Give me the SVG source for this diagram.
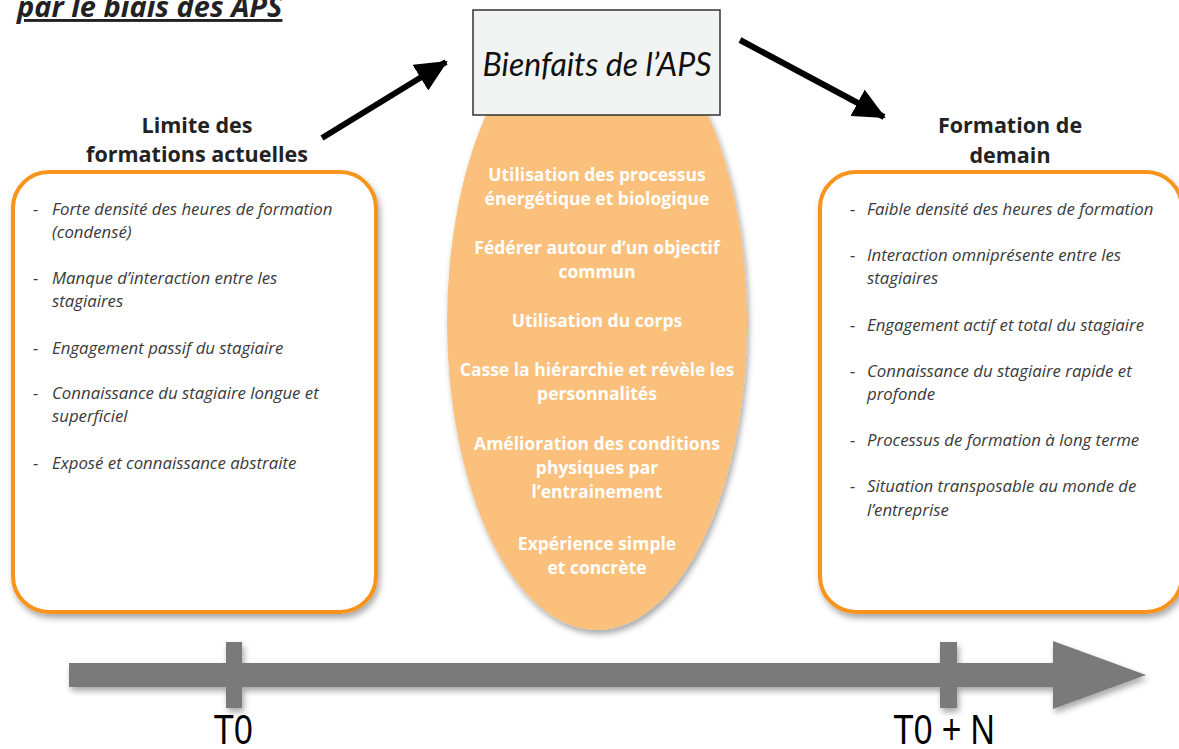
<svg xmlns="http://www.w3.org/2000/svg" width="1179" height="749" viewBox="0 0 1179 749">
<style>
.hdr{font-family:"Open Sans",Lato,"Liberation Sans",sans-serif;font-weight:bold;font-size:21.5px;fill:#222;text-anchor:middle}
.item{font-family:"Open Sans",Lato,"Liberation Sans",sans-serif;font-style:italic;font-size:16.8px;fill:#3a3a3a}
.ctr{font-family:"Open Sans",Lato,"Liberation Sans",sans-serif;font-weight:bold;font-size:17.5px;fill:#fff;text-anchor:middle}
.card{fill:#fff;stroke:#F7941D;stroke-width:4}
.tl{font-family:"Liberation Sans",Arial,sans-serif;font-size:42px;fill:#000;text-anchor:middle}
.conn{stroke:#000;stroke-width:6;fill:none}
</style>
<defs>
<filter id="sh" x="-10%" y="-10%" width="120%" height="120%">
<feGaussianBlur in="SourceAlpha" stdDeviation="3"/>
<feOffset dx="2" dy="4" result="b"/>
<feComponentTransfer><feFuncA type="linear" slope="0.35"/></feComponentTransfer>
<feMerge><feMergeNode/><feMergeNode in="SourceGraphic"/></feMerge>
</filter>
<marker id="ah" markerUnits="userSpaceOnUse" markerWidth="34" markerHeight="30" refX="30" refY="15" orient="auto">
<path d="M0,0 L32,15 L0,30 Z" fill="#000"/>
</marker>
</defs>
<rect width="1179" height="749" fill="#fff"/>

<g id="title">
<text x="17" y="17" font-family="'Open Sans',Lato,'Liberation Sans',sans-serif" font-weight="bold" font-style="italic" font-size="29" fill="#222" text-decoration="underline">par le biais des APS</text>
</g>

<g id="ellipse-aps">
<ellipse cx="597" cy="322" rx="150" ry="308" fill="#FBC07C" filter="url(#sh)"/>
<text class="ctr" x="597" y="181">Utilisation des processus</text>
<text class="ctr" x="597" y="205">énergétique et biologique</text>
<text class="ctr" x="597" y="254">Fédérer autour d’un objectif</text>
<text class="ctr" x="597" y="278">commun</text>
<text class="ctr" x="597" y="327">Utilisation du corps</text>
<text class="ctr" x="597" y="376">Casse la hiérarchie et révèle les</text>
<text class="ctr" x="597" y="400">personnalités</text>
<text class="ctr" x="597" y="450">Amélioration des conditions</text>
<text class="ctr" x="597" y="474">physiques par</text>
<text class="ctr" x="597" y="498">l’entrainement</text>
<text class="ctr" x="597" y="550">Expérience simple</text>
<text class="ctr" x="597" y="574">et concrète</text>
</g>

<g id="bienfaits">
<rect x="473" y="10" width="247" height="105" fill="#F2F4F3" stroke="#333" stroke-width="1.5"/>
<text x="597" y="76" font-family="Lato,'Open Sans','Liberation Sans',sans-serif" font-style="italic" font-size="32" fill="#111" text-anchor="middle">Bienfaits de l’APS</text>
</g>

<g id="limite">
<text class="hdr" x="197" y="133">Limite des</text>
<text class="hdr" x="197" y="162">formations actuelles</text>
<rect class="card" x="13" y="172" width="363" height="440" rx="36" filter="url(#sh)"/>
<g class="item">
<text x="33" y="215">-</text><text x="52" y="215">Forte densité des heures de formation</text>
<text x="52" y="238">(condensé)</text>
<text x="33" y="284">-</text><text x="52" y="284">Manque d’interaction entre les</text>
<text x="52" y="307">stagiaires</text>
<text x="33" y="354">-</text><text x="52" y="354">Engagement passif du stagiaire</text>
<text x="33" y="399">-</text><text x="52" y="399">Connaissance du stagiaire longue et</text>
<text x="52" y="422">superficiel</text>
<text x="33" y="469">-</text><text x="52" y="469">Exposé et connaissance abstraite</text>
</g>
</g>

<g id="demain">
<text class="hdr" x="1010" y="133">Formation de</text>
<text class="hdr" x="1010" y="163">demain</text>
<rect class="card" x="820" y="172" width="362" height="440" rx="36" filter="url(#sh)"/>
<g class="item">
<text x="850" y="215">-</text><text x="867" y="215">Faible densité des heures de formation</text>
<text x="850" y="261">-</text><text x="867" y="261">Interaction omniprésente entre les</text>
<text x="867" y="284">stagiaires</text>
<text x="850" y="331">-</text><text x="867" y="331">Engagement actif et total du stagiaire</text>
<text x="850" y="377">-</text><text x="867" y="377">Connaissance du stagiaire rapide et</text>
<text x="867" y="400">profonde</text>
<text x="850" y="446">-</text><text x="867" y="446">Processus de formation à long terme</text>
<text x="850" y="492">-</text><text x="867" y="492">Situation transposable au monde de</text>
<text x="867" y="516">l’entreprise</text>
</g>
</g>

<g id="connectors">
<line class="conn" x1="322" y1="138" x2="446" y2="62" marker-end="url(#ah)"/>
<line class="conn" x1="740" y1="40" x2="884" y2="117" marker-end="url(#ah)"/>
</g>

<g id="timeline" filter="url(#sh)">
<rect x="69" y="663" width="990" height="24" fill="#7A7A7A"/>
<path d="M1053,641 L1146,675 L1053,709 Z" fill="#7A7A7A"/>
<rect x="226" y="642" width="16" height="66" fill="#7A7A7A"/>
<rect x="940" y="642" width="17" height="66" fill="#7A7A7A"/>
</g>
<g id="labels">
<text class="tl" transform="translate(233,744) scale(0.8,1)">T0</text>
<text class="tl" transform="translate(944,744) scale(0.8,1)">T0 + N</text>
</g>
</svg>
